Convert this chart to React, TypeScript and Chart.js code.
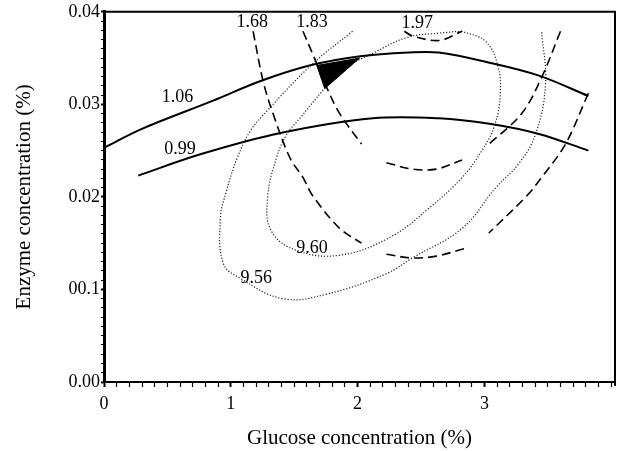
import React, { useEffect, useRef } from "react";
import { Chart, registerables } from "chart.js";

Chart.register(...registerables);

// Axis ticks
const xTickValues = [0, 1, 2, 3];
const xTickLabels = ["0", "1", "2", "3"];
const yTickValues = [0, 0.01, 0.02, 0.03, 0.04];
const yTickLabels = ["0.00", "00.1", "0.02", "0.03", "0.04"];

// Solid contours
const c106 = [
  { x: 0.0, y: 0.0253 }, { x: 0.29, y: 0.0273 }, { x: 0.86, y: 0.0304 },
  { x: 1.23, y: 0.0325 }, { x: 1.62, y: 0.0342 }, { x: 2.02, y: 0.0352 },
  { x: 2.4, y: 0.0356 }, { x: 2.64, y: 0.0356 }, { x: 3.04, y: 0.0345 },
  { x: 3.43, y: 0.0331 }, { x: 3.82, y: 0.0309 },
];
const c099 = [
  { x: 0.27, y: 0.0223 }, { x: 0.76, y: 0.0246 }, { x: 1.39, y: 0.0269 },
  { x: 2.12, y: 0.0285 }, { x: 2.64, y: 0.0285 }, { x: 3.04, y: 0.0279 },
  { x: 3.43, y: 0.0268 }, { x: 3.82, y: 0.025 },
];

// Dashed contours
const d168 = [
  { x: 1.176, y: 0.0379 }, { x: 1.255, y: 0.0325 }, { x: 1.333, y: 0.029 },
  { x: 1.467, y: 0.0242 }, { x: 1.569, y: 0.0221 }, { x: 1.647, y: 0.0201 },
  { x: 1.859, y: 0.0166 }, { x: 2.031, y: 0.015 },
];
const d183 = [
  { x: 1.569, y: 0.0379 }, { x: 1.678, y: 0.0344 }, { x: 1.757, y: 0.0318 },
  { x: 1.859, y: 0.029 }, { x: 2.031, y: 0.0257 },
];
const d197 = [
  { x: 2.369, y: 0.0379 }, { x: 2.431, y: 0.0374 }, { x: 2.643, y: 0.0369 },
  { x: 2.824, y: 0.0379 },
];
const dMid = [
  { x: 2.227, y: 0.0237 }, { x: 2.431, y: 0.023 }, { x: 2.62, y: 0.023 },
  { x: 2.824, y: 0.024 },
];
const dLow = [
  { x: 2.227, y: 0.0138 }, { x: 2.431, y: 0.0134 }, { x: 2.62, y: 0.0136 },
  { x: 2.839, y: 0.0144 },
];
const dRight1 = [
  { x: 3.6, y: 0.0379 }, { x: 3.451, y: 0.0329 }, { x: 3.294, y: 0.029 },
  { x: 3.035, y: 0.0257 },
];
const dRight2 = [
  { x: 3.82, y: 0.0312 }, { x: 3.639, y: 0.0257 }, { x: 3.451, y: 0.0221 },
  { x: 3.333, y: 0.0201 }, { x: 3.035, y: 0.0161 },
];

// Dotted contours
const e960 = [
  { x: 2.824, y: 0.0379 }, { x: 2.643, y: 0.0377 }, { x: 2.384, y: 0.0372 },
  { x: 2.118, y: 0.0355 }, { x: 1.859, y: 0.0336 }, { x: 1.725, y: 0.0315 },
  { x: 1.545, y: 0.0285 }, { x: 1.443, y: 0.0268 }, { x: 1.36, y: 0.0242 },
  { x: 1.29, y: 0.0199 }, { x: 1.32, y: 0.0163 }, { x: 1.522, y: 0.0142 },
  { x: 1.859, y: 0.0137 }, { x: 2.251, y: 0.0156 }, { x: 2.565, y: 0.0188 },
  { x: 2.824, y: 0.0221 }, { x: 2.98, y: 0.025 }, { x: 3.08, y: 0.0277 },
  { x: 3.125, y: 0.0311 }, { x: 3.105, y: 0.0342 }, { x: 3.01, y: 0.0368 },
  { x: 2.824, y: 0.0379 },
];
const e956 = [
  { x: 1.961, y: 0.0379 }, { x: 1.647, y: 0.0344 }, { x: 1.286, y: 0.0293 },
  { x: 1.153, y: 0.0271 }, { x: 1.051, y: 0.0242 }, { x: 0.965, y: 0.0206 },
  { x: 0.918, y: 0.0177 }, { x: 0.941, y: 0.0128 }, { x: 1.075, y: 0.0112 },
  { x: 1.412, y: 0.009 }, { x: 1.757, y: 0.0095 }, { x: 2.227, y: 0.0117 },
  { x: 2.431, y: 0.0134 }, { x: 2.824, y: 0.0166 }, { x: 3.09, y: 0.021 },
  { x: 3.271, y: 0.0236 }, { x: 3.404, y: 0.0268 }, { x: 3.482, y: 0.0322 },
  { x: 3.451, y: 0.0379 },
];

// Optimum region (filled)
const optimum = [
  { x: 1.678, y: 0.0342 }, { x: 2.016, y: 0.035 }, { x: 1.741, y: 0.0317 },
  { x: 1.678, y: 0.0342 },
];

// Contour labels
const labelTexts = ["1.06", "0.99", "1.68", "1.83", "1.97", "9.60", "9.56"];
const labelX = [0.58, 0.6, 1.17, 1.64, 2.47, 1.64, 1.2];
const labelY = [0.0308, 0.0252, 0.0389, 0.0389, 0.0388, 0.0144, 0.0112];

const SERIF = "'Liberation Serif', 'Times New Roman', serif";

function near(v: number, arr: number[]) {
  return arr.findIndex((a) => Math.abs(a - v) < 1e-6);
}

export default function App() {
  const ref = useRef<HTMLCanvasElement | null>(null);

  useEffect(() => {
    if (!ref.current) return;

    const frame = {
      id: "frame",
      afterDraw(chart: any) {
        const { ctx, chartArea } = chart;
        ctx.save();
        ctx.strokeStyle = "#000";
        ctx.lineWidth = 2;
        ctx.beginPath();
        ctx.moveTo(chartArea.left, chartArea.top);
        ctx.lineTo(chartArea.right, chartArea.top);
        ctx.lineTo(chartArea.right, chartArea.bottom + 4);
        ctx.stroke();
        ctx.restore();
      },
    };

    const labels = {
      id: "contourLabels",
      afterDatasetsDraw(chart: any) {
        const { ctx, scales } = chart;
        ctx.save();
        ctx.fillStyle = "#000";
        ctx.font = `18px ${SERIF}`;
        ctx.textAlign = "center";
        ctx.textBaseline = "middle";
        labelTexts.forEach((t, i) => {
          ctx.fillText(t, scales.x.getPixelForValue(labelX[i]), scales.y.getPixelForValue(labelY[i]));
        });
        ctx.restore();
      },
    };

    const solid = (data: any[]) => ({
      data, showLine: true, borderColor: "#000", borderWidth: 2, pointRadius: 0,
      tension: 0.35, fill: false,
    });
    const dashed = (data: any[]) => ({
      data, showLine: true, borderColor: "#000", borderWidth: 1.6, pointRadius: 0,
      borderDash: [9, 5], tension: 0.35, fill: false,
    });
    const dotted = (data: any[]) => ({
      data, showLine: true, borderColor: "#222", borderWidth: 1.2, pointRadius: 0,
      borderDash: [1.2, 1.8], tension: 0.4, fill: false,
    });

    const chart = new Chart(ref.current, {
      type: "scatter",
      data: {
        datasets: [
          { data: optimum, showLine: true, borderColor: "#000", borderWidth: 1, backgroundColor: "#000", pointRadius: 0, tension: 0, fill: "shape" } as any,
          solid(c106), solid(c099),
          dashed(d168), dashed(d183), dashed(d197), dashed(dMid), dashed(dLow),
          dashed(dRight1), dashed(dRight2),
          dotted(e960), dotted(e956),
        ],
      },
      options: {
        animation: false,
        responsive: false,
        layout: { padding: { left: 0, right: 4, top: 11, bottom: 0 } },
        plugins: { legend: { display: false }, tooltip: { enabled: false } },
        scales: {
          x: {
            type: "linear",
            min: 0,
            max: 4.03,
            afterBuildTicks: (s: any) => {
              const t = [];
              for (let i = 0; i <= 40; i++) t.push({ value: i / 10 });
              s.ticks = t;
            },
            afterFit: (s: any) => { s.height = 69; },
            ticks: {
              autoSkip: false,
              maxRotation: 0,
              padding: 6,
              color: "#000",
              font: { family: SERIF, size: 18 },
              callback: (v: any) => {
                const i = near(Number(v), xTickValues);
                return i >= 0 ? xTickLabels[i] : "";
              },
            },
            grid: {
              drawOnChartArea: false,
              tickLength: 5,
              tickColor: "#000",
              tickWidth: (c: any) => (near(c.tick?.value ?? -1, xTickValues) >= 0 ? 2 : 1.2),
            },
            border: { color: "#000", width: 2 },
            title: {
              display: true,
              text: "Glucose concentration (%)",
              color: "#000",
              font: { family: SERIF, size: 21 },
              padding: { top: 0, bottom: 0 },
            },
          },
          y: {
            type: "linear",
            min: 0,
            max: 0.04,
            afterBuildTicks: (s: any) => {
              const t = [];
              for (let i = 0; i <= 40; i++) t.push({ value: i / 1000 });
              s.ticks = t;
            },
            afterFit: (s: any) => { s.width = 104; },
            ticks: {
              autoSkip: false,
              padding: 1,
              color: "#000",
              font: { family: SERIF, size: 18 },
              callback: (v: any) => {
                const i = near(Number(v), yTickValues);
                return i >= 0 ? yTickLabels[i] : "";
              },
            },
            grid: {
              drawOnChartArea: false,
              tickLength: 3,
              tickColor: "#000",
              tickWidth: (c: any) => (near(c.tick?.value ?? -1, yTickValues) >= 0 ? 2 : 1),
            },
            border: { color: "#000", width: 3 },
            title: {
              display: true,
              text: "Enzyme concentration (%)",
              color: "#000",
              font: { family: SERIF, size: 21 },
              padding: { top: 12, bottom: 0 },
            },
          },
        },
      },
      plugins: [frame, labels],
    } as any);

    return () => chart.destroy();
  }, []);

  return (
    <div style={{ position: "fixed", left: 0, top: 0, width: 619, height: 451, background: "#fff" }}>
      <canvas ref={ref} width={619} height={451} />
    </div>
  );
}
